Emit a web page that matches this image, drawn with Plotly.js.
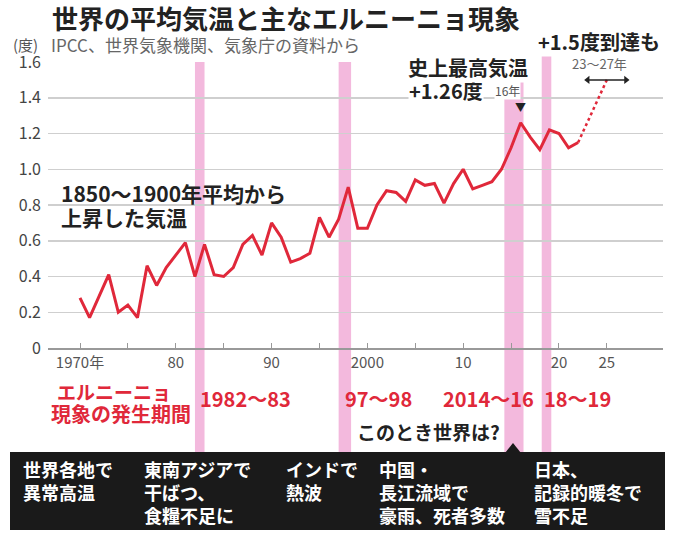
<!DOCTYPE html>
<html><head><meta charset="utf-8">
<script src="https://cdn.plot.ly/plotly-3.0.1.min.js"></script>
<style>html,body{margin:0;padding:0;background:#fff;}#chart{width:680px;height:534px;}</style>
</head><body><div id="chart"></div>
<script>
// ---- data ----
const years = [1970,1971,1972,1973,1974,1975,1976,1977,1978,1979,1980,1981,1982,1983,1984,1985,1986,1987,1988,1989,1990,1991,1992,1993,1994,1995,1996,1997,1998,1999,2000,2001,2002,2003,2004,2005,2006,2007,2008,2009,2010,2011,2012,2013,2014,2015,2016,2017,2018,2019,2020,2021,2022];
const temps = [0.28,0.17,0.29,0.41,0.20,0.24,0.17,0.46,0.35,0.45,0.52,0.59,0.40,0.58,0.41,0.40,0.45,0.58,0.63,0.52,0.70,0.62,0.48,0.50,0.53,0.73,0.62,0.72,0.90,0.67,0.67,0.80,0.88,0.87,0.82,0.94,0.91,0.92,0.81,0.92,1.00,0.89,0.91,0.93,1.00,1.12,1.26,1.18,1.11,1.22,1.20,1.12,1.15];
const projYears = [2022, 2025];
const projTemps = [1.15, 1.50];
const reachYears = [2023, 2027];
const reachLevel = [1.5, 1.5];
const peakYear = 2016, peakTemp = 1.26;
const elStart = [1982, 1997, 2014.3, 2018.2];
const elEnd   = [1983, 1998.3, 2016.3, 2019.2];
const elLabels = ['1982～83','97～98','2014～16','18～19'];
const yTickVals = [0,0.2,0.4,0.6,0.8,1.0,1.2,1.4,1.6];
const yTickText = ['0','0.2','0.4','0.6','0.8','1.0','1.2','1.4','1.6'];
const xTickVals = [1970,1975,1980,1985,1990,1995,2000,2005,2010,2015,2020,2025];
const xTickText = ['1970年','','80','','90','','2000','','10','','20','25'];
const impacts = [
  ['世界各地で','異常高温'],
  ['東南アジアで','干ばつ、','食糧不足に'],
  ['インドで','熱波'],
  ['中国・','長江流域で','豪雨、死者多数'],
  ['日本、','記録的暖冬で','雪不足']
];

// ---- layout helpers (pixel -> paper) ----
const L=48, R=663, T=62, B=348;
const px = x => (x - L)/(R - L);
const py = y => (B - y)/(B - T);
const FONT = '"Noto Sans CJK JP", "Noto Sans", sans-serif';
const RED = '#e0283a';

function ann(text, x, y, o){
  o = o || {};
  return {xref:'paper', yref:'paper', x:px(x), y:py(y), text:text, showarrow:false,
    xanchor:o.xa||'left', yanchor:'middle',
    font:{family:FONT, size:o.size||16, color:o.color||'#222', weight:o.bold?'bold':'normal'},
    bgcolor:o.bg||'rgba(0,0,0,0)', borderpad:o.pad||0};
}

const traces = [
  {x:years, y:temps, mode:'lines', line:{color:RED, width:3}, hoverinfo:'skip'},
  {x:projYears, y:projTemps, mode:'lines', line:{color:RED, width:2.5, dash:'dot'}, hoverinfo:'skip'},
  {x:reachYears, y:reachLevel, mode:'lines+markers', line:{color:'#222', width:1.5},
   marker:{symbol:['triangle-left','triangle-right'], size:7, color:'#222'}, hoverinfo:'skip'}
];

const shapes = [];
for (let i=0;i<elStart.length;i++){
  const top = (i===3) ? py(35) : 1;
  shapes.push({type:'rect', xref:'x', yref:'paper', x0:elStart[i], x1:elEnd[i], y0:py(452), y1:top,
    fillcolor:'#f3b9dd', line:{width:0}, layer:'below'});
}
// black box + pointer
shapes.push({type:'rect', xref:'paper', yref:'paper', x0:px(10), x1:px(665), y0:py(530), y1:py(452),
  fillcolor:'#1a1a1a', line:{width:0}});
shapes.push({type:'path', xref:'paper', yref:'paper',
  path:`M ${px(505)} ${py(453)} L ${px(513)} ${py(443)} L ${px(521)} ${py(453)} Z`,
  fillcolor:'#1a1a1a', line:{width:0}});

const annotations = [
  ann('(度)', 12, 44, {size:15, color:'#555'}),
  ann('IPCC、世界気象機関、気象庁の資料から', 50, 44, {size:17, color:'#666', bg:'#fff'}),
  ann('1850～1900年平均から', 60, 193, {size:21, bold:true}),
  ann('上昇した気温', 60, 217, {size:21, bold:true}),
  ann('+1.26度', 408, 90, {size:20, bold:true, bg:'#fff'}),
  ann('16年', 494, 91, {size:12, color:'#555', bg:'#fff'}),
  ann('史上最高気温', 468, 67, {size:20, bold:true, xa:'center', bg:'#fff'}),
  ann('+1.5度到達も', 537, 42, {size:20, bold:true, bg:'#fff'}),
  ann('23～27年', 599, 63, {size:13, color:'#666', xa:'center', bg:'#fff'}),
  {x:peakYear, y:peakTemp, xref:'x', yref:'y', text:'▼', showarrow:false, yshift:16,
   font:{family:FONT, size:11, color:'#222'}},
  ann('エルニーニョ', 114, 392, {size:19, bold:true, color:RED, xa:'center'}),
  ann('現象の発生期間', 121, 413, {size:20, bold:true, color:RED, xa:'center'}),
  ann('このとき世界は?', 428, 431, {size:19, bold:true, xa:'center'})
];
const labelX = [245, 378, 488, 577];
elLabels.forEach((t,i)=>annotations.push(ann(t, labelX[i], 398, {size:20, bold:true, color:RED, xa:'center'})));
const colX = [22, 143, 285, 378, 533];
const rowY = [469, 492, 515];
impacts.forEach((col,i)=>col.forEach((t,j)=>annotations.push(ann(t, colX[i], rowY[j], {size:18, bold:true, color:'#fff'}))));

const layout = {
  width:680, height:534,
  margin:{l:L, r:680-R, t:T, b:534-B, pad:0},
  paper_bgcolor:'#fff', plot_bgcolor:'#fff',
  showlegend:false,
  font:{family:FONT, color:'#444'},
  title:{text:'<b>世界の平均気温と主なエルニーニョ現象</b>', xref:'container', yref:'container',
    x:52/680, xanchor:'left', y:1-20/534, yanchor:'middle',
    font:{family:FONT, size:26, color:'#222'}},
  xaxis:{range:[1966.66, 2030.86], tickvals:xTickVals, ticktext:xTickText, ticks:'inside', ticklen:5,
    tickcolor:'#999', showgrid:false, showline:true, linecolor:'#999', linewidth:1.5, zeroline:false,
    tickfont:{family:FONT, size:15, color:'#555'}, fixedrange:true},
  yaxis:{range:[0,1.6], tickvals:yTickVals, ticktext:yTickText, ticks:'', showgrid:true,
    gridcolor:'#cfcfcf', gridwidth:1.5, zeroline:false, showline:false, ticklabelstandoff:6,
    tickfont:{family:FONT, size:16, color:'#444'}, fixedrange:true},
  shapes:shapes,
  annotations:annotations
};
Plotly.newPlot('chart', traces, layout, {staticPlot:true, displayModeBar:false});
</script>
</body></html>
